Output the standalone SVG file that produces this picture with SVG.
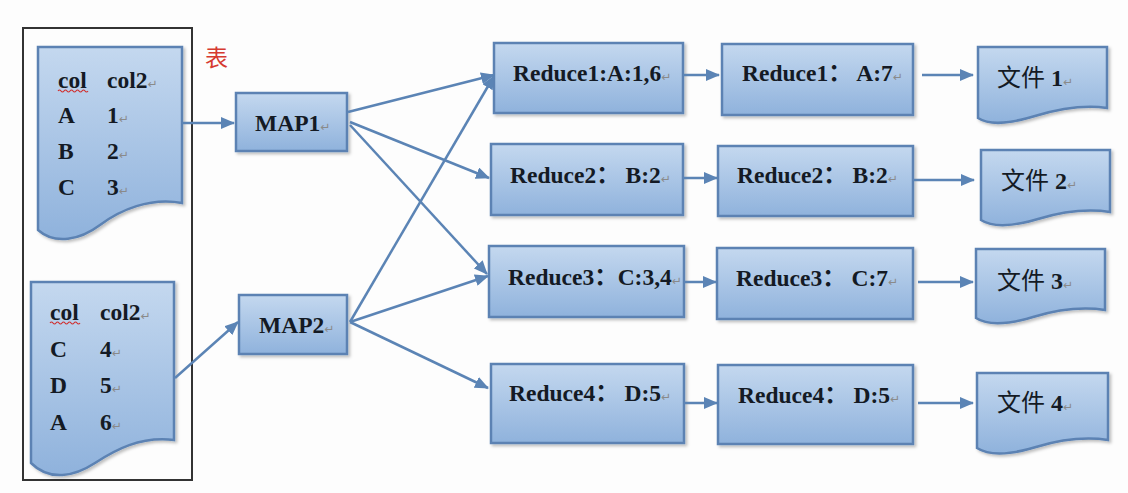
<svg xmlns="http://www.w3.org/2000/svg" width="1128" height="493" viewBox="0 0 1128 493">
<defs>
  <linearGradient id="blue" x1="0" y1="0" x2="0" y2="1">
    <stop offset="0" stop-color="#c4d8ef"/>
    <stop offset="1" stop-color="#8fb2dc"/>
  </linearGradient>
  <filter id="sh" x="-10%" y="-10%" width="130%" height="130%">
    <feDropShadow dx="2" dy="2" stdDeviation="1.5" flood-color="#000" flood-opacity="0.25"/>
  </filter>
  <marker id="arr" markerUnits="userSpaceOnUse" markerWidth="14" markerHeight="12" refX="13" refY="6" orient="auto">
    <path d="M0,0 L14,6 L0,12 Z" fill="#5b84b5"/>
  </marker>
</defs>
<style>
  .box { fill: url(#blue); stroke: #5b82b3; stroke-width: 2.5; filter: url(#sh); }
  .t { font-family: "Liberation Serif", "Noto Sans CJK SC", serif; font-size: 23.5px; font-weight: bold; fill: #141a24; }
  .cjk { font-family: "Liberation Serif", "Noto Sans CJK SC", sans-serif; font-size: 24px; fill: #141a24; }
  .pm { font-family: "DejaVu Sans", sans-serif; font-size: 12px; font-weight: normal; fill: #8a8a8a; }
  .sq { fill: none; stroke: #d03030; stroke-width: 1.2; }
  .conn line { stroke: #5b84b5; stroke-width: 2.5; marker-end: url(#arr); }
</style>
<rect x="0" y="0" width="1128" height="493" fill="#fdfdfd"/>

<rect x="23" y="28" width="169" height="452" fill="none" stroke="#333" stroke-width="2"/>
<text x="205" y="66" font-family="Noto Sans CJK SC, sans-serif" font-size="23" fill="#d63a30">表</text>

<g id="doc1">
  <path class="box" d="M38,47 H182 V203 C150,197 120,210 100,225 C80,240 55,245 38,230 Z"/>
  <text class="t" x="58" y="88">col</text><text class="t" x="107" y="88">col2<tspan class="pm">↵</tspan></text>
  <path class="sq" d="M58,91 q1.5,-2 3,0 t3,0 t3,0 t3,0 t3,0 t3,0 t3,0 t3,0 t3,0 t3,0"/>
  <text class="t" x="58" y="123">A</text><text class="t" x="107" y="123">1<tspan class="pm">↵</tspan></text>
  <text class="t" x="58" y="159">B</text><text class="t" x="107" y="159">2<tspan class="pm">↵</tspan></text>
  <text class="t" x="58" y="195">C</text><text class="t" x="107" y="195">3<tspan class="pm">↵</tspan></text>
</g>

<g id="doc2">
  <path class="box" d="M31,282 H174 V440 C140,436 115,450 95,463 C75,476 50,482 31,463 Z"/>
  <text class="t" x="50" y="320">col</text><text class="t" x="100" y="320">col2<tspan class="pm">↵</tspan></text>
  <path class="sq" d="M50,323 q1.5,-2 3,0 t3,0 t3,0 t3,0 t3,0 t3,0 t3,0 t3,0 t3,0 t3,0"/>
  <text class="t" x="50" y="357">C</text><text class="t" x="100" y="357">4<tspan class="pm">↵</tspan></text>
  <text class="t" x="50" y="393">D</text><text class="t" x="100" y="393">5<tspan class="pm">↵</tspan></text>
  <text class="t" x="50" y="430">A</text><text class="t" x="100" y="430">6<tspan class="pm">↵</tspan></text>
</g>

<g id="map1"><rect class="box" x="236" y="93" width="111" height="58"/><text class="t" x="255" y="131">MAP1<tspan class="pm">↵</tspan></text></g>
<g id="map2"><rect class="box" x="239" y="295" width="108" height="59"/><text class="t" x="259" y="333">MAP2<tspan class="pm">↵</tspan></text></g>

<g id="r1a"><rect class="box" x="494" y="43" width="189" height="70"/><text class="t" x="513" y="81">Reduce1:A:1,6<tspan class="pm">↵</tspan></text></g>
<g id="r2a"><rect class="box" x="491" y="144" width="192" height="71"/><text class="t" x="510" y="183">Reduce2： B:2<tspan class="pm">↵</tspan></text></g>
<g id="r3a"><rect class="box" x="489" y="246" width="195" height="71"/><text class="t" x="508" y="285">Reduce3：C:3,4<tspan class="pm">↵</tspan></text></g>
<g id="r4a"><rect class="box" x="491" y="364" width="193" height="79"/><text class="t" x="509" y="401">Reduce4： D:5<tspan class="pm">↵</tspan></text></g>

<g id="r1b"><rect class="box" x="722" y="44" width="191" height="71"/><text class="t" x="742" y="81">Reduce1： A:7<tspan class="pm">↵</tspan></text></g>
<g id="r2b"><rect class="box" x="718" y="146" width="195" height="70"/><text class="t" x="737" y="183">Reduce2： B:2<tspan class="pm">↵</tspan></text></g>
<g id="r3b"><rect class="box" x="717" y="248" width="196" height="71"/><text class="t" x="736" y="286">Reduce3： C:7<tspan class="pm">↵</tspan></text></g>
<g id="r4b"><rect class="box" x="718" y="365" width="195" height="79"/><text class="t" x="738" y="403">Reduce4： D:5<tspan class="pm">↵</tspan></text></g>

<g id="f1"><path class="box" d="M978,47 H1107 V108 C1080,104 1055,110 1035,116 C1015,122 992,127 978,118 Z"/><text class="cjk" x="997" y="86">文件 <tspan font-weight="bold">1</tspan><tspan class="pm">↵</tspan></text></g>
<g id="f2"><path class="box" d="M981,150 H1110 V212 C1083,208 1058,213 1038,219 C1018,225 995,229 981,220 Z"/><text class="cjk" x="1001" y="189">文件 <tspan font-weight="bold">2</tspan><tspan class="pm">↵</tspan></text></g>
<g id="f3"><path class="box" d="M976,249 H1105 V310 C1078,306 1053,311 1033,317 C1013,323 990,327 976,318 Z"/><text class="cjk" x="997" y="289">文件 <tspan font-weight="bold">3</tspan><tspan class="pm">↵</tspan></text></g>
<g id="f4"><path class="box" d="M977,373 H1108 V440 C1081,436 1056,441 1036,447 C1016,453 991,457 977,448 Z"/><text class="cjk" x="997" y="411">文件 <tspan font-weight="bold">4</tspan><tspan class="pm">↵</tspan></text></g>

<g class="conn">
  <line x1="182" y1="123" x2="234" y2="123"/>
  <line x1="175" y1="378" x2="238" y2="322"/>
  <line x1="348" y1="112" x2="494" y2="75"/>
  <line x1="350" y1="122" x2="489" y2="178"/>
  <line x1="350" y1="125" x2="487" y2="274"/>
  <line x1="350" y1="322" x2="494" y2="76"/>
  <line x1="350" y1="322" x2="488" y2="276"/>
  <line x1="350" y1="322" x2="488" y2="388"/>
  <line x1="683" y1="75" x2="719" y2="75"/>
  <line x1="683" y1="178" x2="717" y2="178"/>
  <line x1="684" y1="282" x2="716" y2="282"/>
  <line x1="684" y1="403" x2="717" y2="403"/>
  <line x1="922" y1="75" x2="973" y2="75"/>
  <line x1="913" y1="180" x2="974" y2="180"/>
  <line x1="918" y1="282" x2="973" y2="282"/>
  <line x1="918" y1="403" x2="973" y2="403"/>
</g>
</svg>
